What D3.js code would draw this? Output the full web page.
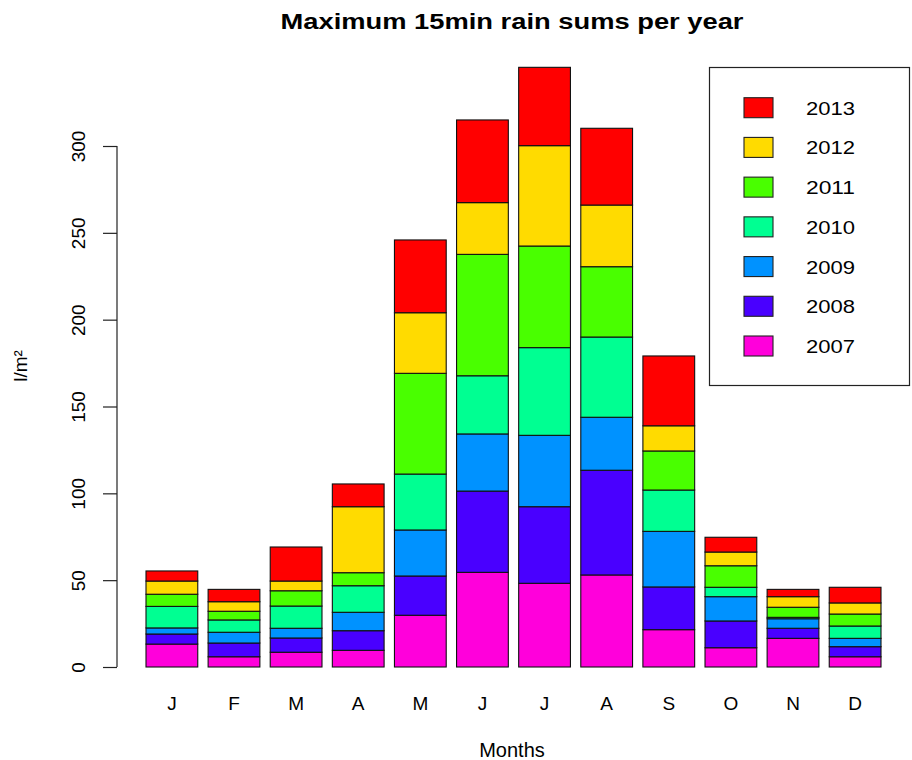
<!DOCTYPE html>
<html>
<head>
<meta charset="utf-8">
<script src="https://cdn.jsdelivr.net/npm/d3@7"></script>
<style>
  html, body { margin: 0; padding: 0; background: #fff; }
  svg text { font-family: "Liberation Sans", Arial, sans-serif; fill: #000; }
</style>
</head>
<body>
<svg id="chart" width="912" height="760"></svg>
<script>
// ---- data ----
const months = ["J","F","M","A","M","J","J","A","S","O","N","D"];
const years = ["2007","2008","2009","2010","2011","2012","2013"];
const colors = ["#FF00DB","#4900FF","#0092FF","#00FF92","#49FF00","#FFDB00","#FF0000"];
const y2007 = [13.2, 5.9, 8.5, 9.6, 29.8, 54.5, 48.2, 53.0, 21.5, 11.1, 16.5, 5.9];
const y2008 = [5.8, 7.9, 8.2, 11.3, 22.6, 46.8, 44.1, 60.3, 24.6, 15.4, 5.8, 5.8];
const y2009 = [3.5, 6.2, 5.6, 10.6, 26.5, 32.9, 41.1, 30.5, 32.0, 14.0, 5.5, 4.8];
const y2010 = [12.4, 7.1, 12.8, 15.3, 32.2, 33.5, 50.5, 46.2, 23.8, 5.4, 0.8, 7.1];
const y2011 = [7.0, 5.0, 8.8, 7.5, 58.0, 69.9, 58.5, 40.5, 22.5, 12.4, 5.8, 6.9];
const y2012 = [7.6, 5.5, 5.6, 38.0, 34.9, 29.8, 57.8, 35.5, 14.5, 7.9, 6.1, 6.4];
const y2013 = [5.8, 7.1, 19.6, 13.1, 41.9, 47.6, 45.1, 44.2, 40.2, 8.5, 4.2, 9.0];
const yTicks = [0, 50, 100, 150, 200, 250, 300];
const title = "Maximum 15min rain sums per year";
const xTitle = "Months";
const yTitle = "l/m²";

const series = [y2007, y2008, y2009, y2010, y2011, y2012, y2013];

// ---- build table ----
const table = months.map((m, i) => {
  const row = { idx: i };
  years.forEach((yr, k) => { row[yr] = series[k][i]; });
  return row;
});
const stacked = d3.stack().keys(years)(table);

const svg = d3.select("#chart");

const x = d3.scaleBand()
  .domain(d3.range(months.length))
  .range([146, 881])
  .paddingInner(0.2 / 1.2)
  .paddingOuter(0);

const y = d3.scaleLinear().domain([0, 300]).range([667, 146]);

// bars
svg.append("g").selectAll("g")
  .data(stacked)
  .join("g")
  .attr("fill", (d, i) => colors[i])
  .selectAll("rect")
  .data(d => d)
  .join("rect")
  .attr("x", d => x(d.data.idx))
  .attr("width", x.bandwidth())
  .attr("y", d => y(d[1]))
  .attr("height", d => y(d[0]) - y(d[1]))
  .attr("stroke", "#111")
  .attr("stroke-width", 1.1);

// y axis
const yAxis = d3.axisLeft(y).tickValues(yTicks).tickSize(14).tickPadding(0).tickFormat(d3.format("d"));
const gy = svg.append("g").attr("transform", "translate(117,0)").call(yAxis);
gy.select(".domain").attr("stroke", "#222").attr("stroke-width", 1.2).attr("d", `M-14,${y(0)}H0V${y(300)}H-14`);
gy.select(".domain").attr("d", `M0,${y(0)}V${y(300)}`);
gy.selectAll(".tick line").attr("stroke", "#222").attr("stroke-width", 1.2);
gy.selectAll(".tick text")
  .attr("font-size", 19)
  .attr("fill", "#000")
  .attr("x", null).attr("dy", null)
  .attr("text-anchor", "middle")
  .attr("transform", "translate(-32,0) rotate(-90)");

// x labels
const xAxis = d3.axisBottom(x).tickFormat(i => months[i]).tickSize(0).tickPadding(0);
const gx = svg.append("g").attr("transform", "translate(0,667)").call(xAxis);
gx.select(".domain").remove();
gx.selectAll(".tick text").attr("font-size", 19).attr("fill", "#000").attr("dy", null).attr("y", 43);

// title
svg.append("text")
  .attr("x", 512).attr("y", 29)
  .attr("text-anchor", "middle")
  .attr("font-size", 22)
  .attr("font-weight", "bold")
  .attr("textLength", 463)
  .attr("lengthAdjust", "spacingAndGlyphs")
  .text(title);

// axis titles
svg.append("text")
  .attr("x", 512).attr("y", 757)
  .attr("text-anchor", "middle")
  .attr("font-size", 20)
  .text(xTitle);

svg.append("text")
  .attr("transform", "translate(27,366) rotate(-90)")
  .attr("text-anchor", "middle")
  .attr("font-size", 19)
  .text(yTitle);

// legend
const lg = svg.append("g");
lg.append("rect")
  .attr("x", 709.5).attr("y", 67.5).attr("width", 200).attr("height", 318)
  .attr("fill", "#fff").attr("stroke", "#222").attr("stroke-width", 1.2);
const legendOrder = years.map((yr, i) => ({ yr, c: colors[i] })).reverse();
const ly = d3.scalePoint().domain(legendOrder.map(d => d.yr)).range([107.7, 346]);
const items = lg.selectAll("g.item").data(legendOrder).join("g").attr("class", "item")
  .attr("transform", d => `translate(0,${ly(d.yr)})`);
items.append("rect")
  .attr("x", 744).attr("y", -10).attr("width", 29).attr("height", 20)
  .attr("fill", d => d.c).attr("stroke", "#222").attr("stroke-width", 1.1);
items.append("text")
  .attr("x", 806).attr("y", 7)
  .attr("font-size", 19)
  .attr("textLength", 49)
  .attr("lengthAdjust", "spacingAndGlyphs")
  .text(d => d.yr);
</script>
</body>
</html>
